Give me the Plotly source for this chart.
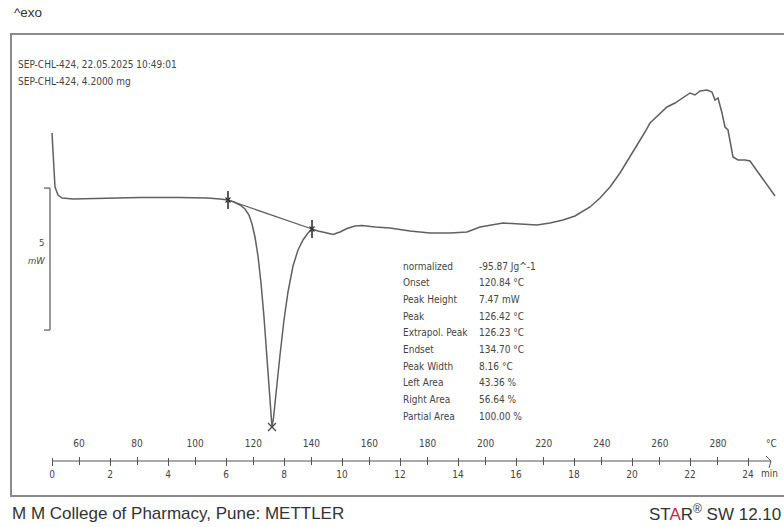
import plotly.graph_objects as go

W, H = 784, 527

# ---- data (time in min, heat flow in mW, relative) ----
time_min = [0.000, 0.034, 0.103, 0.207, 0.345, 0.724, 1.655, 3.034, 4.414, 5.345, 5.793, 6.069,
            6.276, 6.483, 6.655, 6.793, 6.897, 7.000, 7.103, 7.207, 7.310, 7.414, 7.483, 7.552, 7.586,
            7.638, 7.690, 7.759, 7.862, 8.000, 8.138, 8.310, 8.483, 8.655, 8.828, 8.966,
            9.172, 9.483, 9.690, 9.931, 10.172, 10.448, 10.690, 11.138,
            11.655, 12.345, 13.034, 13.724, 14.310, 14.759, 15.552,
            16.138, 16.724, 17.172, 17.621, 18.034, 18.552, 18.897, 19.241, 19.586, 20.034, 20.448,
            20.621, 20.897, 21.207, 21.483, 21.724, 22.000, 22.172, 22.345, 22.586, 22.759, 22.862,
            22.966, 23.103, 23.207, 23.310, 23.483, 23.655, 23.897, 24.069, 24.414, 24.862, 24.931]
heat_flow_mw = [2.359, 1.761, 0.458, 0.176, 0.070, 0.035, 0.053, 0.088, 0.088, 0.070, 0.035, 0.000,
                -0.070, -0.176, -0.317, -0.528, -0.845, -1.303, -1.972, -2.923, -4.120, -5.528,
                -6.690, -7.570, -7.993,
                -7.676, -7.113, -6.444, -5.458, -4.225, -3.239, -2.324, -1.761, -1.408, -1.162, -1.021,
                -1.092, -1.162, -1.215, -1.127, -1.004, -0.915, -0.898, -0.951,
                -0.986, -1.092, -1.162, -1.162, -1.127, -0.951, -0.810,
                -0.845, -0.880, -0.810, -0.704, -0.563,
                -0.246, 0.070, 0.458, 0.951, 1.690, 2.394, 2.711, 2.993, 3.275, 3.415, 3.592, 3.768,
                3.697, 3.838, 3.873, 3.803, 3.521, 3.592, 3.063, 2.570, 2.465, 1.514, 1.408, 1.408,
                1.373, 0.880, 0.246, 0.141]

limit_time = [6.069, 8.966]
limit_hf = [0.000, -1.021]
peak_time = [7.586]
peak_hf = [-7.993]

time_ticks = [0, 2, 4, 6, 8, 10, 12, 14, 16, 18, 20, 22, 24]
temp_ticks = [60, 80, 100, 120, 140, 160, 180, 200, 220, 240, 260, 280]

result_labels = ["normalized", "Onset", "Peak Height", "Peak", "Extrapol. Peak", "Endset",
                 "Peak Width", "Left Area", "Right Area", "Partial Area"]
result_values = ["-95.87 Jg^-1", "120.84 °C", "7.47 mW", "126.42 °C", "126.23 °C", "134.70 °C",
                 "8.16 °C", "43.36 %", "56.64 %", "100.00 %"]

header_lines = ["SEP-CHL-424, 22.05.2025 10:49:01", "SEP-CHL-424, 4.2000 mg"]
scale_mw = 5

# ---- geometry helpers ----
def px(x):
    return x / W

def py(y):
    return 1 - y / H

PX_PER_MIN = 29.0
X0 = 52.0
PX_PER_MW = 28.4
Y0 = 200.0

x_range = [-X0 / PX_PER_MIN, (W - X0) / PX_PER_MIN]
y_range = [-(H - Y0) / PX_PER_MW, Y0 / PX_PER_MW]
t_range = [60 - 79 / 2.9045, 60 + (W - 79) / 2.9045]

NARROW = "Liberation Sans Narrow, DejaVu Sans Condensed, Arial Narrow, sans-serif"
GRAY = "#606060"
TXT = "#444444"

fig = go.Figure()

# baseline of integration
fig.add_trace(go.Scatter(x=limit_time, y=limit_hf, mode="lines",
                         line=dict(color=GRAY, width=1.3), showlegend=False, hoverinfo="skip"))
fig.add_trace(go.Scatter(x=time_min, y=heat_flow_mw, mode="lines",
                         line=dict(color=GRAY, width=1.5),
                         showlegend=False, hoverinfo="skip"))
fig.add_trace(go.Scatter(x=limit_time, y=limit_hf, mode="markers",
                         marker=dict(symbol="line-ns-open", size=13, color="#333",
                                     line=dict(color="#333", width=1.6)),
                         showlegend=False, hoverinfo="skip"))
fig.add_trace(go.Scatter(x=limit_time, y=limit_hf, mode="markers",
                         marker=dict(symbol="x-thin-open", size=5, color="#333",
                                     line=dict(color="#333", width=1.2)),
                         showlegend=False, hoverinfo="skip"))
fig.add_trace(go.Scatter(x=peak_time, y=peak_hf, mode="markers",
                         marker=dict(symbol="x-thin-open", size=8, color="#444",
                                     line=dict(color="#444", width=1.2)),
                         showlegend=False, hoverinfo="skip"))
# dummy trace for temperature axis
fig.add_trace(go.Scatter(x=[None], y=[None], xaxis="x2", yaxis="y", mode="lines",
                         showlegend=False, hoverinfo="skip"))

fig.update_layout(
    width=W, height=H, autosize=False,
    margin=dict(l=0, r=0, t=0, b=0),
    paper_bgcolor="white", plot_bgcolor="white",
    xaxis=dict(domain=[0, 1], range=x_range, anchor="free", position=py(457), side="bottom",
               showgrid=False, zeroline=False, showline=False,
               tickmode="array", tickvals=time_ticks, ticktext=[str(v) for v in time_ticks],
               ticks="outside", ticklen=8, tickwidth=1, tickcolor="#555",
               tickfont=dict(family=NARROW, size=10, color=TXT)),
    xaxis2=dict(domain=[0, 1], range=t_range, overlaying="x", anchor="free", position=py(465),
                side="top", showgrid=False, zeroline=False, showline=False,
                tickmode="array", tickvals=temp_ticks, ticktext=[str(v) for v in temp_ticks],
                ticks="outside", ticklen=8, tickwidth=1, tickcolor="#555", ticklabelstandoff=6,
                tickfont=dict(family=NARROW, size=10, color=TXT)),
    yaxis=dict(domain=[0, 1], range=y_range, visible=False),
)

shapes = []
# frame
shapes.append(dict(type="line", xref="paper", yref="paper", x0=px(10), x1=1, y0=py(34), y1=py(34),
                   line=dict(color="#8a8a8a", width=2)))
shapes.append(dict(type="line", xref="paper", yref="paper", x0=px(11), x1=px(11), y0=py(34), y1=py(496),
                   line=dict(color="#8a8a8a", width=2)))
shapes.append(dict(type="line", xref="paper", yref="paper", x0=px(10), x1=1, y0=py(496), y1=py(496),
                   line=dict(color="#8a8a8a", width=2)))
# axis line
shapes.append(dict(type="line", xref="paper", yref="paper", x0=px(X0), x1=px(771), y0=py(461), y1=py(461),
                   line=dict(color="#555", width=1.2)))
shapes.append(dict(type="line", xref="paper", yref="paper", x0=px(766), x1=px(771), y0=py(456), y1=py(461),
                   line=dict(color="#555", width=1)))
shapes.append(dict(type="line", xref="paper", yref="paper", x0=px(771), x1=px(769), y0=py(461), y1=py(468),
                   line=dict(color="#555", width=1)))
# 5 mW scale bracket
y_top = 0.42
shapes.append(dict(type="line", xref="paper", yref="y", x0=px(50), x1=px(50), y0=y_top, y1=y_top - scale_mw,
                   line=dict(color="#666", width=1.3)))
shapes.append(dict(type="line", xref="paper", yref="y", x0=px(44), x1=px(50), y0=y_top, y1=y_top,
                   line=dict(color="#666", width=1.3)))
shapes.append(dict(type="line", xref="paper", yref="y", x0=px(44), x1=px(50), y0=y_top - scale_mw,
                   y1=y_top - scale_mw, line=dict(color="#666", width=1.3)))
fig.update_layout(shapes=shapes)

ann = []
def text(x, y, s, size=9, family=NARROW, color=TXT, xanchor="left"):
    ann.append(dict(x=px(x), y=py(y), xref="paper", yref="paper", text=s, showarrow=False,
                    xanchor=xanchor, yanchor="middle", font=dict(size=size, family=family, color=color)))

text(12, 13, "^exo", size=13.5, family="Liberation Sans, Arial, sans-serif", color="#333")
for i, s in enumerate(header_lines):
    text(16, 65 + 16.5 * i, s, size=10)
text(41, 242, str(scale_mw), size=9.5, xanchor="center")
text(36, 260, "<i>mW</i>", size=9.5, xanchor="center")
for i, (lab, val) in enumerate(zip(result_labels, result_values)):
    yy = 266 + 16.7 * i
    text(401, yy, lab, size=10)
    text(477, yy, val, size=10)
text(771, 443, "°C", size=10, xanchor="center")
text(759, 473, "min", size=10)
text(10, 513, "M M College of Pharmacy, Pune: METTLER", size=17,
     family="Liberation Sans, Arial, sans-serif", color="#333")
text(783, 513, "ST<span style='color:#d0223a'>A</span>R<sup>®</sup> SW 12.10", size=17,
     family="Liberation Sans, Arial, sans-serif", color="#333", xanchor="right")
fig.update_layout(annotations=ann)

fig.write_html("out.html")
